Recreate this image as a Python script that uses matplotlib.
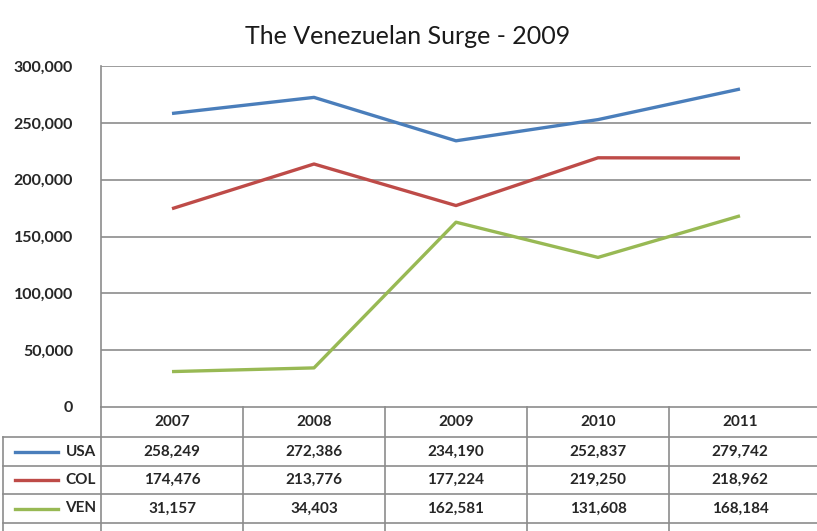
import matplotlib
matplotlib.use("Agg")
import matplotlib.pyplot as plt
from matplotlib.lines import Line2D

years = ["2007", "2008", "2009", "2010", "2011"]
usa = [258249, 272386, 234190, 252837, 279742]
col = [174476, 213776, 177224, 219250, 218962]
ven = [31157, 34403, 162581, 131608, 168184]
series_names = ["USA", "COL", "VEN"]
series_values = [usa, col, ven]
colors = ["#4A7EBB", "#BE4B48", "#98B954"]
yticks = [0, 50000, 100000, 150000, 200000, 250000, 300000]

W, H = 817, 531
plt.rcParams['font.family'] = ['Lato', 'DejaVu Sans']
fig = plt.figure(figsize=(W / 100, H / 100), dpi=100)
grid_c = "#8C8C8C"
txt_c = "#262626"
fw = "bold"

# plot area in pixels
L, R, T, B = 101, 811, 66, 407
ax = fig.add_axes([L / W, 1 - B / H, (R - L) / W, (B - T) / H])
x = list(range(len(years)))
for name, vals, c in zip(series_names, series_values, colors):
    ax.plot(x, vals, color=c, lw=2.4, solid_capstyle='butt', zorder=3)
ax.set_xlim(-0.5, len(years) - 0.5)
ax.set_ylim(0, 300000)
ax.set_yticks(yticks)
ax.set_yticklabels([f"{v:,}" for v in yticks], fontsize=11.5, color=txt_c, fontweight=fw)
ax.set_xticks([])
ax.tick_params(axis='y', length=0, pad=20)
for s in ["top", "right", "bottom"]:
    ax.spines[s].set_visible(False)
ax.spines["left"].set_color(grid_c)
ax.spines["left"].set_linewidth(1.2)
for v in yticks[1:]:
    ax.axhline(v, color=grid_c, lw=1.2, zorder=1)

fig.text(0.5 * (232 + 583) / W, 1 - 36 / H, "The Venezuelan Surge - 2009", ha="center", va="center",
         fontsize=18, color="#1a1a1a")

# data table drawn in pixel coordinates
tab = fig.add_axes([0, 0, 1, 1])
tab.set_xlim(0, W)
tab.set_ylim(H, 0)
tab.axis("off")
col_w = (R - L) / len(years)
row_edges = [B, 437, 466, 494, 523]
tab.add_line(Line2D([L, W], [B, B], color=grid_c, lw=1.2))
for yy in row_edges[1:]:
    tab.add_line(Line2D([3, W], [yy, yy], color=grid_c, lw=1.2))
tab.add_line(Line2D([3, 3], [row_edges[1], H], color=grid_c, lw=1.2))
tab.add_line(Line2D([L, L], [B, H], color=grid_c, lw=1.2))
for i in range(1, len(years)):
    xx = L + i * col_w
    tab.add_line(Line2D([xx, xx], [B, H], color=grid_c, lw=1.2))

fs = 11
for i, yr in enumerate(years):
    cx = L + (i + 0.5) * col_w
    tab.text(cx, (row_edges[0] + row_edges[1]) / 2, yr, ha="center", va="center",
             fontsize=fs, color=txt_c, fontweight=fw)
for r, (name, vals, c) in enumerate(zip(series_names, series_values, colors)):
    cy = (row_edges[r + 1] + row_edges[r + 2]) / 2
    tab.add_line(Line2D([15, 58], [cy, cy], color=c, lw=2.4))
    tab.text(96, cy, name, ha="right", va="center", fontsize=fs, color=txt_c, fontweight=fw)
    for i, v in enumerate(vals):
        cx = L + (i + 0.5) * col_w
        tab.text(cx, cy, f"{v:,}", ha="center", va="center", fontsize=fs, color=txt_c,
                 fontweight=fw)

fig.savefig("out.png", dpi=100)
